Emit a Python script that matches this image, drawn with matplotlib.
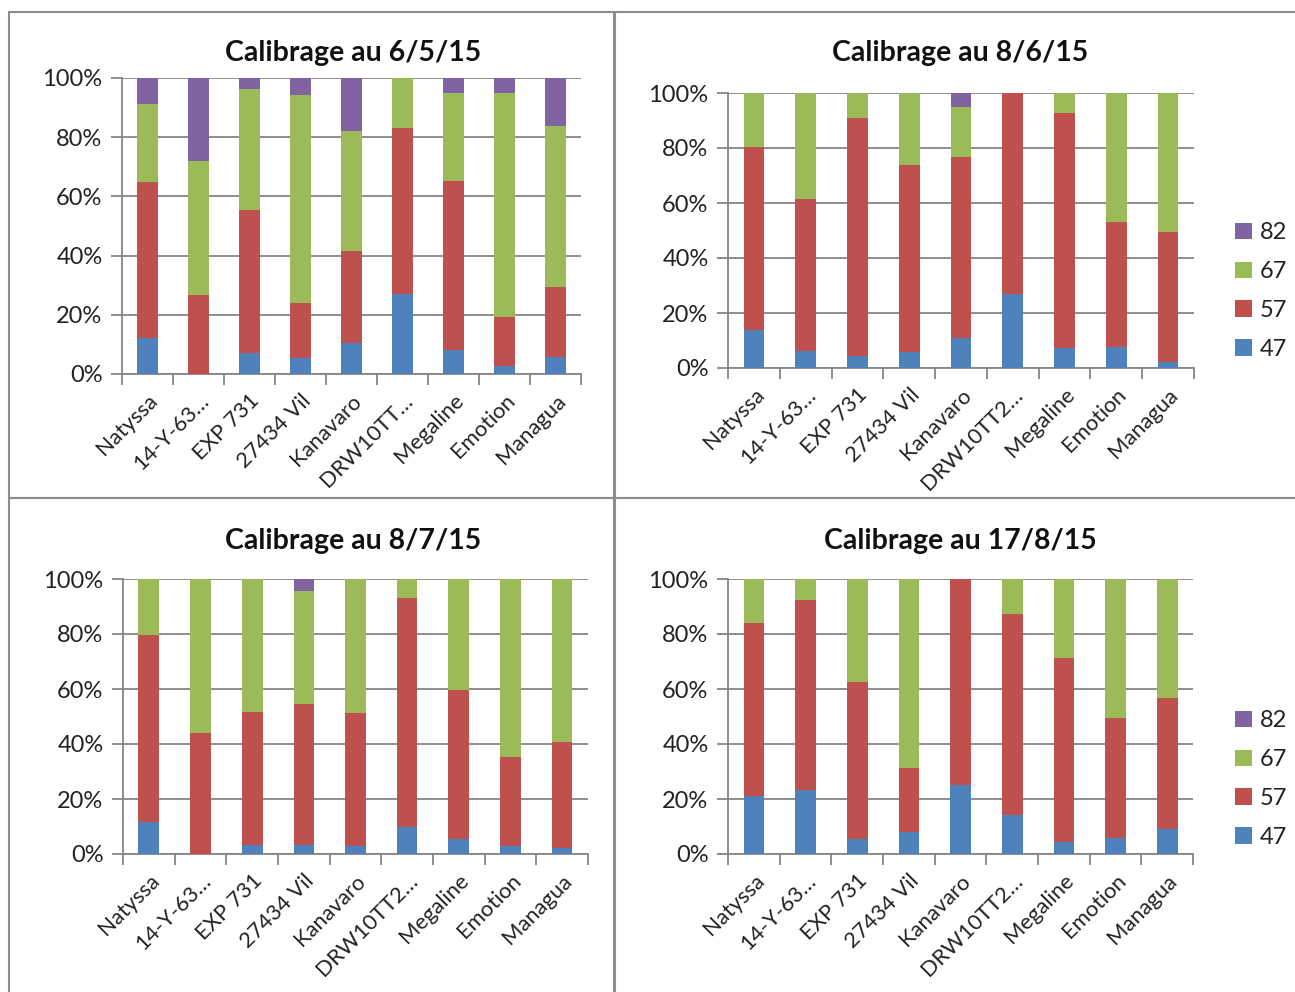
import numpy as np
import matplotlib
matplotlib.use("Agg")
from matplotlib import pyplot as plt
from matplotlib.patches import Rectangle, Patch

plt.rcParams['font.family'] = ['Lato', 'DejaVu Sans']

# categories
varietes_a = ["Natyssa", "14-Y-63…", "EXP 731", "27434 Vil", "Kanavaro",
              "DRW10TT…", "Megaline", "Emotion", "Managua"]
varietes_b = ["Natyssa", "14-Y-63…", "EXP 731", "27434 Vil", "Kanavaro",
              "DRW10TT2…", "Megaline", "Emotion", "Managua"]
calibres = ["47", "57", "67", "82"]
titres = ["Calibrage au 6/5/15", "Calibrage au 8/6/15",
          "Calibrage au 8/7/15", "Calibrage au 17/8/15"]

# pourcentages par calibre (47, 57, 67, 82)
c6_5_47 = [12.3, 0.0, 7.1, 5.3, 10.5, 27.1, 8.0, 2.8, 5.8]
c6_5_57 = [52.5, 26.6, 48.2, 18.6, 30.9, 56.0, 57.2, 16.5, 23.5]
c6_5_67 = [26.5, 45.5, 40.9, 70.5, 40.8, 16.9, 29.6, 75.5, 54.6]
c6_5_82 = [8.7, 27.9, 3.8, 5.6, 17.8, 0.0, 5.2, 5.2, 16.1]

c8_6_47 = [13.8, 6.2, 4.4, 5.8, 10.9, 26.8, 7.2, 7.6, 2.1]
c8_6_57 = [66.4, 55.2, 86.5, 67.9, 65.9, 73.2, 85.5, 45.4, 47.2]
c8_6_67 = [19.8, 38.6, 9.1, 26.3, 18.2, 0.0, 7.3, 47.0, 50.7]
c8_6_82 = [0.0, 0.0, 0.0, 0.0, 5.0, 0.0, 0.0, 0.0, 0.0]

c8_7_47 = [11.8, 0.0, 3.4, 3.4, 2.9, 10.0, 5.3, 2.9, 2.1]
c8_7_57 = [67.8, 44.1, 48.2, 51.3, 48.2, 83.1, 54.3, 32.3, 38.7]
c8_7_67 = [20.4, 55.9, 48.4, 40.8, 48.9, 6.9, 40.4, 64.8, 59.2]
c8_7_82 = [0.0, 0.0, 0.0, 4.5, 0.0, 0.0, 0.0, 0.0, 0.0]

c17_8_47 = [21.1, 23.1, 5.3, 8.0, 25.0, 14.2, 4.3, 5.7, 9.2]
c17_8_57 = [62.9, 69.2, 57.2, 23.1, 75.0, 73.0, 67.0, 43.8, 47.7]
c17_8_67 = [16.0, 7.7, 37.5, 68.9, 0.0, 12.8, 28.7, 50.5, 43.1]
c17_8_82 = [0.0, 0.0, 0.0, 0.0, 0.0, 0.0, 0.0, 0.0, 0.0]

couleurs = ["#4F81BD", "#C0504D", "#9BBB59", "#8064A2"]
gris = "#868686"

W, H = 1295, 992
fig = plt.figure(figsize=(W / 100, H / 100), dpi=100)
fig.patch.set_facecolor("white")

def pos(left, right, top, bottom):
    return [left / W, 1 - bottom / H, (right - left) / W, (bottom - top) / H]

# cadres des graphiques
for (x0, y0, x1, y1) in [(9, 12, 614, 498), (615, 12, 1300, 498),
                         (9, 498, 614, 1000), (615, 498, 1300, 1000)]:
    fig.add_artist(Rectangle((x0 / W, 1 - y1 / H), (x1 - x0) / W, (y1 - y0) / H,
                             transform=fig.transFigure, fill=False,
                             edgecolor="#8c8c8c", linewidth=1.5))

panneaux = [
    (pos(122, 581, 78, 374), varietes_a, [c6_5_47, c6_5_57, c6_5_67, c6_5_82], (353, 53), None),
    (pos(728, 1194, 93, 368), varietes_b, [c8_6_47, c8_6_57, c8_6_67, c8_6_82], (960, 53), 291),
    (pos(123, 588, 579, 854), varietes_b, [c8_7_47, c8_7_57, c8_7_67, c8_7_82], (353, 541), None),
    (pos(728, 1193, 579, 854), varietes_b, [c17_8_47, c17_8_57, c17_8_67, c17_8_82], (960, 541), 779),
]

for k, (rect, cats, series, tpos, leg_y) in enumerate(panneaux):
    ax = fig.add_axes(rect)
    x = np.arange(len(cats))
    bas = np.zeros(len(cats))
    handles = []
    for s, col, lab in zip(series, couleurs, calibres):
        v = np.array(s)
        ax.bar(x, v, 0.4, bottom=bas, color=col, zorder=3)
        bas = bas + v
        handles.append(Patch(facecolor=col, label=lab))
    ax.set_xlim(-0.5, len(cats) - 0.5)
    ax.set_ylim(0, 100)
    ax.set_yticks(np.arange(0, 101, 20))
    ax.set_yticklabels([f"{t}%" for t in range(0, 101, 20)], fontsize=17, color="#222222")
    ax.set_xticks(x)
    ax.set_xticklabels(cats, rotation=45, ha="right", rotation_mode="anchor",
                       fontsize=15.8, color="#222222")
    ax.set_xticks(np.arange(-0.5, len(cats)), minor=True)
    ax.tick_params(axis="x", which="major", length=0, pad=12)
    ax.tick_params(axis="x", which="minor", length=8, color=gris, width=1.3)
    ax.tick_params(axis="y", length=8, color=gris, width=1.3, pad=6)
    ax.grid(axis="y", color=gris, linewidth=1.3, zorder=0)
    for sp in ["top", "right"]:
        ax.spines[sp].set_visible(False)
    for sp in ["left", "bottom"]:
        ax.spines[sp].set_color(gris)
        ax.spines[sp].set_linewidth(1.3)
    fig.text(tpos[0] / W, 1 - tpos[1] / H, titres[k], fontsize=20.5, fontweight="bold",
             ha="center", va="center", color="#111111")
    if leg_y is not None:
        leg = fig.legend(handles[::-1], calibres[::-1], loc="center left",
                         bbox_to_anchor=(1214 / W, 1 - leg_y / H), frameon=False,
                         fontsize=17, handlelength=0.7, handleheight=0.7,
                         handletextpad=0.35, labelspacing=0.75)
        for t in leg.get_texts():
            t.set_color("#222222")

fig.savefig("out.png", dpi=100, facecolor="white")
